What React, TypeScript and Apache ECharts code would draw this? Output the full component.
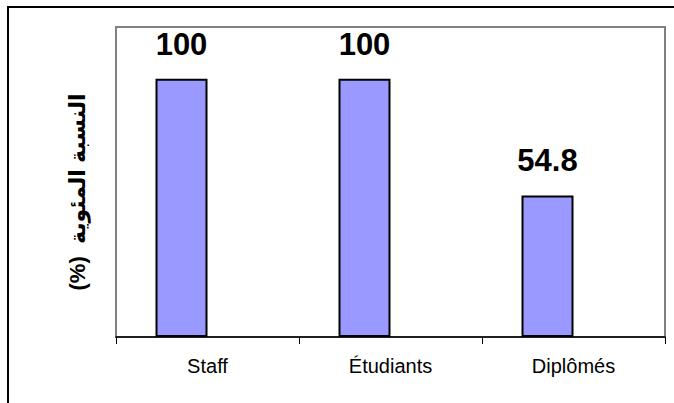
import React, { useEffect, useRef } from "react";
import * as echarts from "echarts";

const categories = ["Staff", "Étudiants", "Diplômés"];
const values = [100, 100, 54.8];
const emptySeries = ["-", "-", "-"];
const yAxisTitle = "النسبة المئوية  (%)\u200F";

const FONT = "Arial, 'Liberation Sans', 'DejaVu Sans', sans-serif";

export default function App() {
  const ref = useRef<HTMLDivElement>(null);
  useEffect(() => {
    document.body.style.margin = "0";
    const chart = echarts.init(ref.current!, null, { renderer: "svg" });
    chart.setOption({
      animation: false,
      backgroundColor: "#ffffff",
      grid: {
        left: 116,
        right: 9,
        top: 27,
        bottom: 66,
        show: true,
        borderColor: "#808080",
        borderWidth: 2,
        backgroundColor: "transparent",
      },
      xAxis: {
        type: "category",
        data: categories,
        axisLine: { show: true, lineStyle: { color: "#000", width: 1.5 } },
        axisTick: { show: true, length: 7, lineStyle: { color: "#000", width: 1 } },
        axisLabel: { color: "#000", fontSize: 20, fontFamily: FONT, margin: 19 },
      },
      yAxis: {
        type: "value",
        min: 0,
        max: 120,
        axisLine: { show: false },
        axisTick: { show: false },
        axisLabel: { show: false },
        splitLine: { show: false },
      },
      graphic: [
        {
          type: "rect",
          shape: { x: 8, y: 7, width: 720, height: 440 },
          style: { fill: "none", stroke: "#000", lineWidth: 2 },
          silent: true,
        },
        {
          type: "text",
          x: 77,
          y: 192,
          rotation: Math.PI / 2,
          style: {
            text: yAxisTitle,
            fill: "#000",
            font: `bold 22px ${FONT}`,
            textAlign: "center",
            textVerticalAlign: "middle",
          },
        },
      ],
      series: [
        {
          type: "bar",
          data: values,
          barWidth: 52,
          barGap: "0%",
          itemStyle: { color: "#9999FF", borderColor: "#000", borderWidth: 2 },
          label: {
            show: true,
            position: "top",
            distance: 19,
            color: "#000",
            fontSize: 31,
            fontWeight: "bold",
            fontFamily: FONT,
          },
        },
        {
          type: "bar",
          data: emptySeries,
          barWidth: 52,
          barGap: "0%",
        },
      ],
    });
    return () => chart.dispose();
  }, []);
  return <div ref={ref} style={{ width: 674, height: 403 }} />;
}
